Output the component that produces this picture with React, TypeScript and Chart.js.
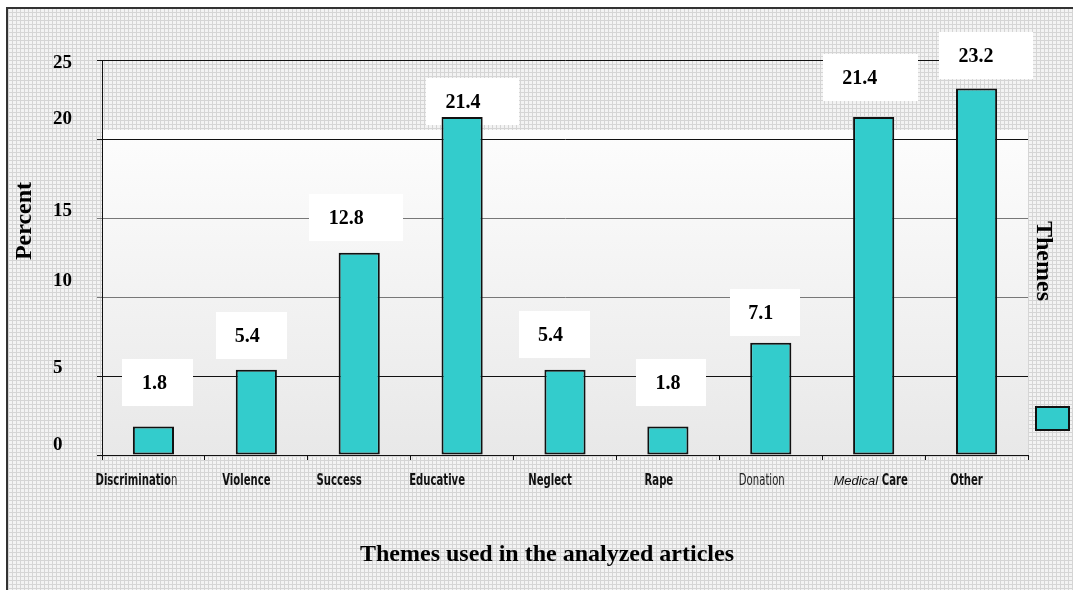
import React, { useEffect, useRef } from "react";
import { Chart, registerables } from "chart.js";

Chart.register(...registerables);

// ---------- data ----------
const categories = [
  "Discrimination",
  "Violence",
  "Success",
  "Educative",
  "Neglect",
  "Rape",
  "Donation",
  "Medical Care",
  "Other",
];
const values = [1.8, 5.4, 12.8, 21.4, 5.4, 1.8, 7.1, 21.4, 23.2];
const valueLabels = values.map((v) => v.toFixed(1));
const yTickValues = [0, 5, 10, 15, 20, 25];
const seriesName = "Themes";
const xTitle = "Themes used in the analyzed articles";
const yTitle = "Percent";

// ---------- styling (offsets in px, not data) ----------
const yLabelShift = [-11, -9, -17, -8, -21, 2];
const xLabelShift = [-17, -10, -20, -25, -15, -9, -9, -3, -10];
const xLabelStyle = ["boldLastLight", "bold", "bold", "bold", "bold", "bold", "regular", "italicFirst", "bold"];
const valTextDx = [1, -9, -13, 1, -14.5, 0, -10, -14, -0.5];
const valTextDy = [44, 34, 35, 15, 35, 44, 30, 39, 33];
const valBoxW = [71, 71, 94, 93, 71, 70, 70, 95, 94];
const valBoxDx = [3, 4, 9.5, 9.5, 4, 3.5, 4.5, 11, 10];

const BAR_COLOR = "#33cccc";
const SERIF = "'Liberation Serif', 'Times New Roman', serif";
const NARROW = "'Liberation Sans Narrow', 'DejaVu Sans Condensed', sans-serif";

function labelRuns(i: number, label: string) {
  const s = xLabelStyle[i];
  if (s === "boldLastLight")
    return [
      { t: label.slice(0, -1), f: "b" },
      { t: label.slice(-1), f: "r" },
    ];
  if (s === "italicFirst") {
    const parts = label.split(" ");
    return [
      { t: parts[0] + " ", f: "i" },
      { t: parts.slice(1).join(" "), f: "b" },
    ];
  }
  return [{ t: label, f: s === "regular" ? "r" : "b" }];
}

function runFont(f: string) {
  if (f === "b") return { font: `bold 16.5px ${NARROW}`, sx: 0.68, color: "#111" };
  if (f === "r") return { font: `16.5px ${NARROW}`, sx: 0.68, color: "#222" };
  return { font: `italic 13px 'Liberation Sans', Arial, sans-serif`, sx: 1, color: "#111" };
}

const backgroundPlugin = {
  id: "bgPlugin",
  beforeDraw(chart: any) {
    const { ctx, width, height, chartArea, scales } = chart;
    ctx.save();
    ctx.fillStyle = "#ffffff";
    ctx.fillRect(0, 0, width, height);
    const tile = document.createElement("canvas");
    tile.width = 4;
    tile.height = 4;
    const t = tile.getContext("2d")!;
    t.fillStyle = "#f3f3f3";
    t.fillRect(0, 0, 4, 4);
    t.fillStyle = "#d5d5d5";
    t.fillRect(0, 0, 4, 1);
    t.fillRect(0, 0, 1, 4);
    const pat = ctx.createPattern(tile, "repeat");
    ctx.fillStyle = pat;
    ctx.fillRect(8, 9, width - 8, height - 9);
    ctx.fillStyle = "#333";
    ctx.fillRect(6, 7, width - 6, 2);
    ctx.fillRect(6, 7, 2, height - 7);
    const y = scales.y;
    const gTop = y.getPixelForValue(20) - 9;
    const g = ctx.createLinearGradient(0, gTop, 0, chartArea.bottom);
    g.addColorStop(0, "#fdfdfd");
    g.addColorStop(1, "#e8e8e8");
    ctx.fillStyle = g;
    ctx.fillRect(chartArea.left, gTop, chartArea.right - chartArea.left, chartArea.bottom - gTop);
    ctx.restore();
  },
  beforeDatasetsDraw(chart: any) {
    const { ctx } = chart;
    const meta = chart.getDatasetMeta(0);
    ctx.save();
    meta.data.forEach((bar: any, i: number) => {
      const tx = bar.x + valTextDx[i];
      const ty = bar.y - valTextDy[i];
      const bw = valBoxW[i];
      const bh = 47;
      ctx.fillStyle = "#ffffff";
      ctx.fillRect(Math.round(tx + valBoxDx[i] - bw / 2), Math.round(ty - bh / 2), bw, bh);
      ctx.fillStyle = "#000";
      ctx.font = `bold 20px ${SERIF}`;
      ctx.textAlign = "center";
      ctx.textBaseline = "middle";
      ctx.fillText(valueLabels[i], tx, ty + 1);
    });
    ctx.restore();
  },
  afterDraw(chart: any) {
    const { ctx, scales, chartArea } = chart;
    ctx.save();
    // y tick labels
    ctx.fillStyle = "#000";
    ctx.font = `bold 19px ${SERIF}`;
    ctx.textAlign = "left";
    ctx.textBaseline = "middle";
    yTickValues.forEach((v, i) => {
      ctx.fillText(String(v), 53, scales.y.getPixelForValue(v) + yLabelShift[i] + 1);
    });
    // x tick labels
    ctx.textAlign = "left";
    ctx.textBaseline = "middle";
    const ly = chartArea.bottom + 26;
    categories.forEach((c, i) => {
      const runs = labelRuns(i, c);
      let total = 0;
      const widths = runs.map((r) => {
        const rf = runFont(r.f);
        ctx.font = rf.font;
        const w = ctx.measureText(r.t).width * rf.sx;
        total += w;
        return w;
      });
      let x = scales.x.getPixelForValue(i) + xLabelShift[i] - total / 2;
      runs.forEach((r, k) => {
        const rf = runFont(r.f);
        ctx.font = rf.font;
        ctx.fillStyle = rf.color;
        ctx.save();
        ctx.translate(x, ly);
        ctx.scale(rf.sx, 1);
        ctx.fillText(r.t, 0, 0);
        ctx.restore();
        x += widths[k];
      });
    });
    // titles
    ctx.fillStyle = "#000";
    ctx.font = `bold 24px ${SERIF}`;
    ctx.textAlign = "center";
    ctx.textBaseline = "middle";
    ctx.fillText(xTitle, 547, 555);
    ctx.save();
    ctx.translate(25, 221);
    ctx.rotate(-Math.PI / 2);
    ctx.fillText(yTitle, 0, 0);
    ctx.restore();
    ctx.save();
    ctx.translate(1043, 261);
    ctx.rotate(Math.PI / 2);
    ctx.fillText(chart.data.datasets[0].label, 0, 0);
    ctx.restore();
    // legend swatch
    ctx.fillStyle = BAR_COLOR;
    ctx.fillRect(1036, 407, 33, 23);
    ctx.strokeStyle = "#111";
    ctx.lineWidth = 2;
    ctx.strokeRect(1036, 407, 33, 23);
    ctx.restore();
  },
};

export default function App() {
  const ref = useRef<HTMLCanvasElement>(null);
  useEffect(() => {
    const chart = new Chart(ref.current!, {
      type: "bar",
      data: {
        labels: categories,
        datasets: [
          {
            label: seriesName,
            data: values,
            backgroundColor: BAR_COLOR,
            borderColor: "#111",
            borderWidth: 2,
            borderSkipped: false,
            barPercentage: 0.4,
            categoryPercentage: 1,
          },
        ],
      },
      options: {
        responsive: false,
        animation: false,
        devicePixelRatio: 1,
        layout: { autoPadding: false, padding: { top: 60, right: 45, left: 0, bottom: 0 } },
        plugins: { legend: { display: false }, tooltip: { enabled: false } },
        scales: {
          x: {
            grid: { display: true, drawOnChartArea: false, drawTicks: true, tickLength: 5, color: "#111", offset: true },
            ticks: { display: false },
            border: { display: true, color: "#111", width: 1 },
            afterFit: (s: any) => {
              s.height = 135;
            },
          },
          y: {
            min: 0,
            max: 25,
            ticks: { display: false, stepSize: 5 },
            afterBuildTicks: (s: any) => {
              s.ticks = yTickValues.map((v) => ({ value: v }));
            },
            grid: {
              drawTicks: true,
              tickLength: 5,
              color: (c: any) => (c.tick && (c.tick.value === 10 || c.tick.value === 15) ? "#777" : "#111"),
              lineWidth: 1,
            },
            border: { display: true, color: "#111", width: 1 },
            afterFit: (s: any) => {
              s.width = 102;
            },
          },
        },
      },
      plugins: [backgroundPlugin],
    } as any);
    return () => chart.destroy();
  }, []);
  return (
    <div style={{ position: "absolute", left: 0, top: 0, width: 1073, height: 590 }}>
      <canvas ref={ref} width={1073} height={590} style={{ display: "block" }} />
    </div>
  );
}
